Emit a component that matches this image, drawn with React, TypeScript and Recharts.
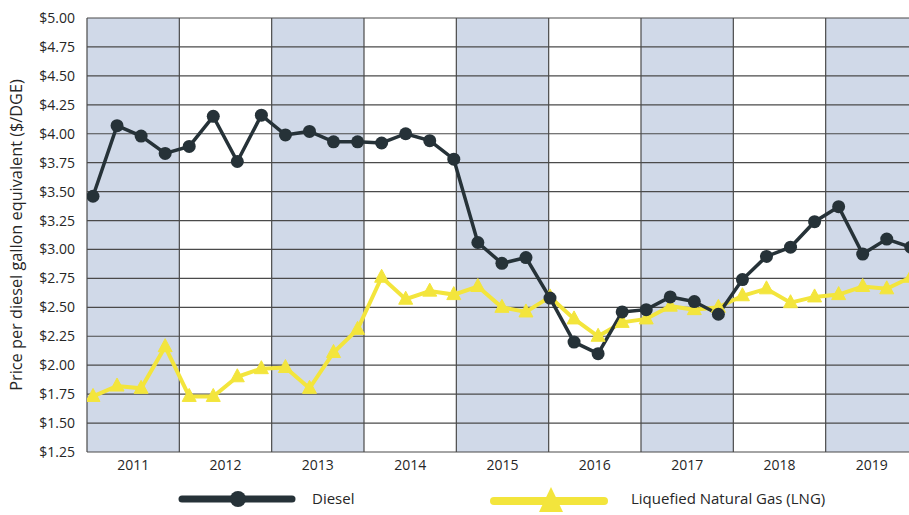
import React from 'react';
import {
  LineChart,
  Line,
  XAxis,
  YAxis,
  ReferenceArea,
  ReferenceLine,
  Legend,
} from 'recharts';

const yearLabels = [2011, 2012, 2013, 2014, 2015, 2016, 2017, 2018, 2019];
const shadedYears = [2011, 2013, 2015, 2017, 2019];
const priceTicks = [1.25, 1.5, 1.75, 2.0, 2.25, 2.5, 2.75, 3.0, 3.25, 3.5, 3.75, 4.0, 4.25, 4.5, 4.75, 5.0];

const dieselPrices = [
  3.46, 4.07, 3.98, 3.83, 3.89, 4.15, 3.76, 4.16, 3.99, 4.02, 3.93, 3.93,
  3.92, 4.0, 3.94, 3.78, 3.06, 2.88, 2.93, 2.58, 2.2, 2.1, 2.46, 2.48,
  2.59, 2.55, 2.44, 2.74, 2.94, 3.02, 3.24, 3.37, 2.96, 3.09, 3.02,
];
const lngPrices = [
  1.73, 1.82, 1.8, 2.16, 1.73, 1.73, 1.9, 1.97, 1.98, 1.8, 2.11, 2.31,
  2.76, 2.57, 2.64, 2.61, 2.68, 2.5, 2.46, 2.59, 2.4, 2.25, 2.37, 2.4,
  2.51, 2.48, 2.5, 2.6, 2.66, 2.54, 2.59, 2.61, 2.68, 2.66, 2.76,
];

// sample times: first sample early in 2011, one sample roughly every 0.26 year
const FIRST_SAMPLE = 2010.565;
const SAMPLE_STEP = 0.2605;

const data = dieselPrices.map((d, i) => ({
  t: FIRST_SAMPLE + i * SAMPLE_STEP,
  diesel: d,
  lng: lngPrices[i],
}));

const DIESEL = '#263238';
const LNG = '#f3e53c';
const BAND = '#d0d9e8';
const GRID = '#4a4a4a';
const TEXT = '#262626';
const FONT = '"Open Sans", sans-serif';

const TriangleDot = (props: any) => {
  const { cx, cy, index } = props;
  if (cx == null || cy == null) return <g key={`t-${index}`} />;
  return (
    <polygon
      key={`t-${index}`}
      points={`${cx},${cy - 8} ${cx - 7},${cy + 5} ${cx + 7},${cy + 5}`}
      fill={LNG}
      stroke={LNG}
      strokeWidth={1}
      strokeLinejoin="round"
    />
  );
};

const LegendContent = () => (
  <div style={{ position: 'relative', width: 930, height: 33, fontFamily: FONT, fontSize: 15, fontWeight: 500, color: TEXT }}>
    <svg style={{ position: 'absolute', left: 178, top: 5 }} width={118} height={24}>
      <line x1={4} y1={12} x2={114} y2={12} stroke={DIESEL} strokeWidth={7} strokeLinecap="round" />
      <circle cx={60} cy={12} r={8} fill={DIESEL} />
    </svg>
    <span style={{ position: 'absolute', left: 312, top: 6 }}>Diesel</span>
    <svg style={{ position: 'absolute', left: 490, top: 3 }} width={118} height={28}>
      <line x1={4} y1={16} x2={114} y2={16} stroke={LNG} strokeWidth={8} strokeLinecap="round" />
      <polygon points="61,2 49,27 73,27" fill={LNG} />
    </svg>
    <span style={{ position: 'absolute', left: 631, top: 6 }}>Liquefied Natural Gas (LNG)</span>
  </div>
);

const boundaries = [2010.5, ...yearLabels.slice(1).map((y) => y - 0.5)];

export default function App() {
  return (
    <div style={{ position: 'absolute', left: 0, top: 0, width: 909, height: 515, overflow: 'hidden', background: '#fff' }}>
      <LineChart
        width={930}
        height={515}
        data={data}
        margin={{ top: 18, right: 12, bottom: 0, left: 0 }}
        style={{ fontFamily: FONT }}
      >
        <XAxis
          dataKey="t"
          type="number"
          domain={[2010.5, 2019.5]}
          ticks={yearLabels}
          allowDataOverflow
          axisLine={false}
          tickLine={false}
          height={30}
          interval={0}
          tick={{ fill: TEXT, fontSize: 14, fontWeight: 500 }}
          tickFormatter={(v: number) => String(v)}
        />
        <YAxis
          type="number"
          domain={[1.25, 5]}
          ticks={priceTicks}
          allowDataOverflow
          axisLine={false}
          tickLine={false}
          width={87}
          tickMargin={6}
          interval={0}
          tick={{ fill: TEXT, fontSize: 14, fontWeight: 500 }}
          tickFormatter={(v: number) => `$${v.toFixed(2)}`}
          label={{
            value: 'Price per diesel gallon equivalent ($/DGE)',
            angle: -90,
            position: 'insideLeft',
            offset: 16,
            style: { textAnchor: 'middle', fill: TEXT, fontSize: 16.3, fontWeight: 500 },
          }}
        />
        {shadedYears.map((y) => (
          <ReferenceArea
            key={`band-${y}`}
            x1={y - 0.5}
            x2={y + 0.5}
            y1={1.25}
            y2={5}
            fill={BAND}
            fillOpacity={1}
            stroke="none"
            ifOverflow="hidden"
          />
        ))}
        {priceTicks.map((p) => (
          <ReferenceLine key={`h-${p}`} y={p} stroke={GRID} strokeWidth={1.2} />
        ))}
        {boundaries.map((b) => (
          <ReferenceLine key={`v-${b}`} x={b} stroke={GRID} strokeWidth={1.2} />
        ))}
        <Line
          dataKey="lng"
          name="Liquefied Natural Gas (LNG)"
          stroke={LNG}
          strokeWidth={4}
          dot={TriangleDot}
          activeDot={false}
          isAnimationActive={false}
        />
        <Line
          dataKey="diesel"
          name="Diesel"
          stroke={DIESEL}
          strokeWidth={3.5}
          dot={{ r: 6.5, fill: DIESEL, stroke: DIESEL, strokeWidth: 0 }}
          activeDot={false}
          isAnimationActive={false}
        />
        <Legend verticalAlign="bottom" height={33} content={<LegendContent />} />
      </LineChart>
    </div>
  );
}
